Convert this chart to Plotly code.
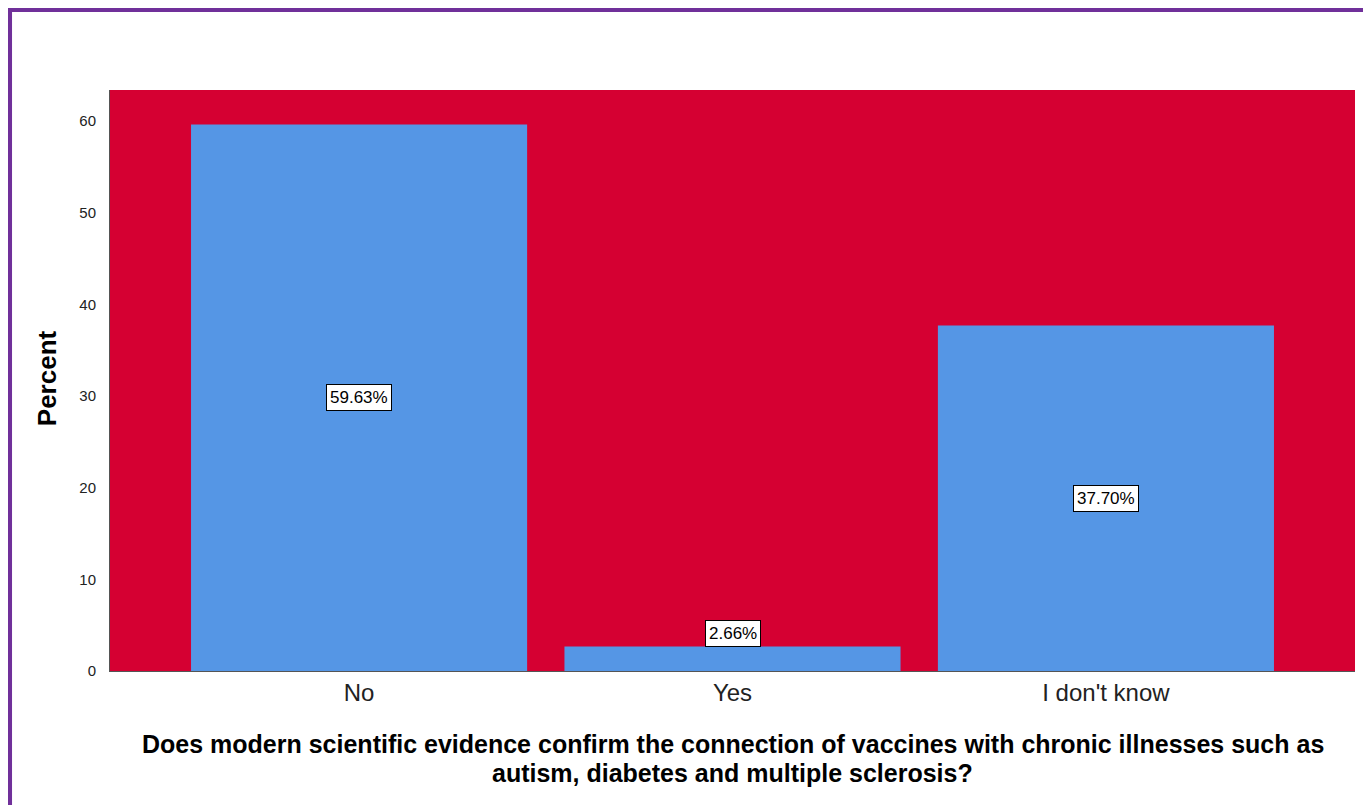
import plotly.graph_objects as go

categories = ["No", "Yes", "I don't know"]
percent = [59.63, 2.66, 37.70]
y_ticks = [0, 10, 20, 30, 40, 50, 60]
x_title_lines = [
    "Does modern scientific evidence confirm the connection of vaccines with chronic illnesses such as",
    "autism, diabetes and multiple sclerosis?",
]
y_title = "Percent"

RED = "#D50032"
BLUE = "#5596E5"
PURPLE = "#70309A"
FONT = "Liberation Sans, Arial, sans-serif"

fig = go.Figure()
fig.add_trace(go.Bar(
    x=list(range(len(categories))), y=percent, width=0.9,
    marker=dict(color=BLUE, line=dict(width=0)),
    hoverinfo="skip",
))

for i, v in enumerate(percent):
    ypos = v / 2 if v > 8 else v + 1.4
    fig.add_annotation(x=i, y=ypos, xref="x", yref="y", text=f"{v:.2f}%",
                       showarrow=False, bgcolor="white", bordercolor="black",
                       borderwidth=1, borderpad=3,
                       font=dict(family=FONT, size=17, color="black"))

# x-axis title (two tight lines)
for j, line in enumerate(x_title_lines):
    fig.add_annotation(x=0.5, y=-0.1265 - 0.0499 * j, xref="paper", yref="paper",
                       text=f"<b>{line}</b>", showarrow=False,
                       xanchor="center", yanchor="middle",
                       font=dict(family=FONT, size=25, color="black"))

# y-axis title
fig.add_annotation(x=-0.0506, y=0.504, xref="paper", yref="paper",
                   text=f"<b>{y_title}</b>", showarrow=False, textangle=-90,
                   xanchor="center", yanchor="middle",
                   font=dict(family=FONT, size=26, color="black"))

fig.update_layout(
    width=1363, height=797,
    margin=dict(l=102, r=16, t=82, b=134),
    paper_bgcolor="white", plot_bgcolor=RED,
    showlegend=False,
    font=dict(family=FONT, color="#222"),
    xaxis=dict(
        range=[-0.667, 2.667], tickmode="array",
        tickvals=list(range(len(categories))), ticktext=categories,
        tickfont=dict(size=24, color="#222"), ticks="", showgrid=False,
        zeroline=False, showline=True, linecolor="#555", linewidth=1,
    ),
    yaxis=dict(
        range=[0, 63.4], tickmode="array", tickvals=y_ticks,
        tickfont=dict(size=15, color="#222"), ticks="", showgrid=False,
        zeroline=False, showline=True, linecolor="#555", linewidth=1,
        ticklabelstandoff=10,
    ),
)

# purple frame around the chart
fig.add_shape(type="rect", xref="paper", yref="paper",
              x0=-0.0807, x1=1.00924, y0=-0.27, y1=1.13855,
              line=dict(color=PURPLE, width=5), fillcolor="rgba(0,0,0,0)", layer="above")

fig.write_html("out.html")
